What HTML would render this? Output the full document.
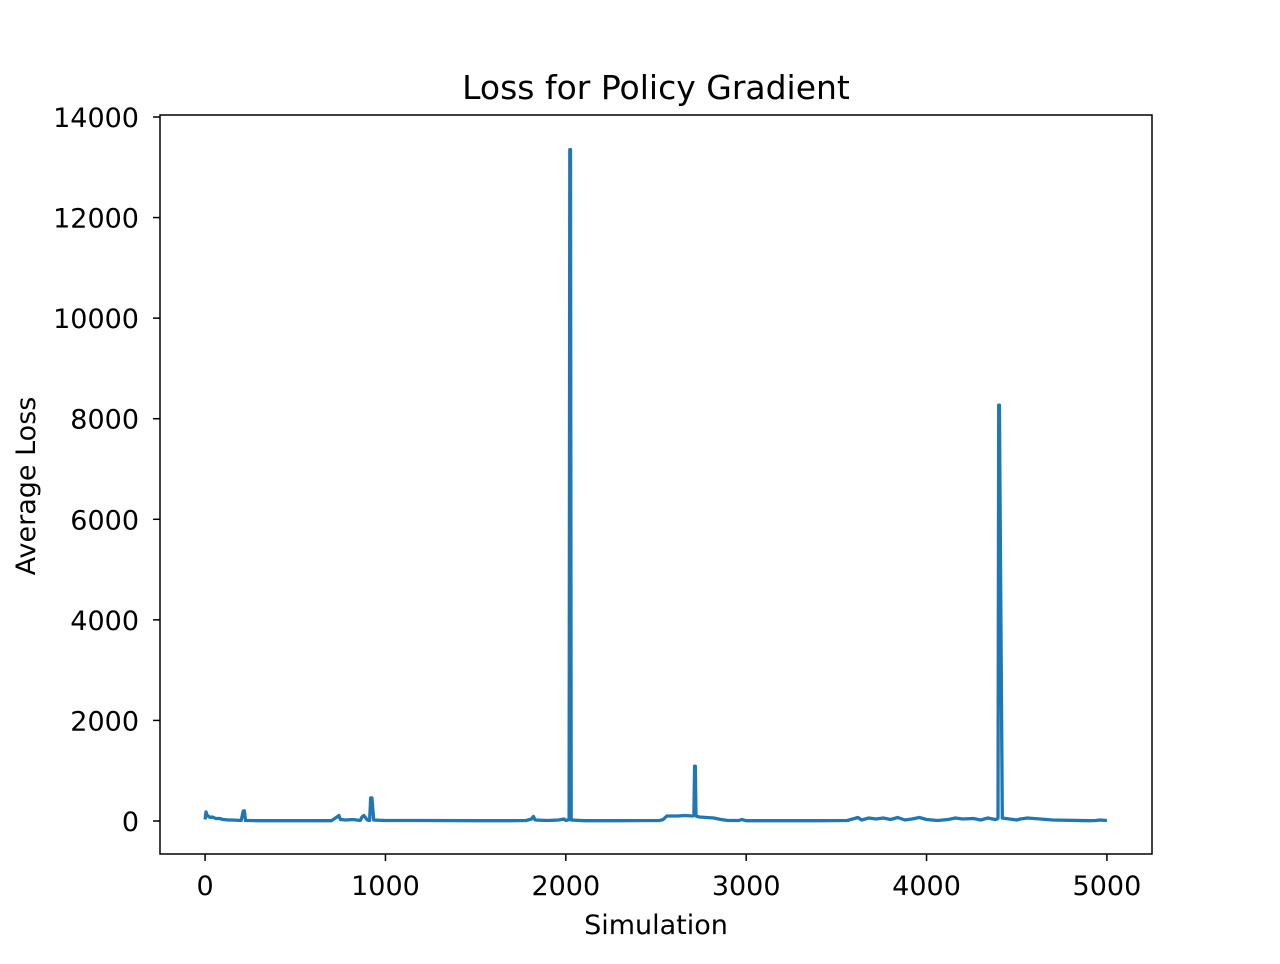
<!DOCTYPE html>
<html><head><meta charset="utf-8"><style>
body{margin:0;background:#fff;font-family:"DejaVu Sans","Liberation Sans",sans-serif;}
svg text{font-family:"DejaVu Sans","Liberation Sans",sans-serif;}
</style></head><body>
<svg id="chart" width="1280" height="960" xmlns="http://www.w3.org/2000/svg">
<rect width="1280" height="960" fill="#fff"/>
<text x="656" y="99" font-size="33" text-anchor="middle">Loss for Policy Gradient</text>
<text x="656" y="934" font-size="27" text-anchor="middle">Simulation</text>
<text transform="translate(35,486) rotate(-90)" font-size="27" text-anchor="middle">Average Loss</text>
<g id="ticks"></g>
<path id="line" fill="none" stroke="#1f77b4" stroke-width="3.3" stroke-linejoin="round"/>
<rect x="160" y="115" width="992" height="739" fill="none" stroke="#000" stroke-width="1.5"/>
</svg>
<script>
const xTicks=[0,1000,2000,3000,4000,5000];
const yTicks=[0,2000,4000,6000,8000,10000,12000,14000];
const simX= [0, 5,  8,  12, 20,30,40,60,80,100,130,150,200,212,218,224,240,300,500,700,735,742,750,780,820,860,870,880,900,912,918,925,935,1000,1200,1500,1700,1780,1810,1820,1830,1900,1960,1990,2000,2018,2022,2026,2030,2100,2300,2520,2540,2560,2580,2620,2660,2700,2710,2714,2718,2722,2740,2780,2820,2860,2900,2960,2975,3000,3200,3400,3560,3600,3620,3640,3680,3720,3760,3800,3840,3880,3920,3960,4000,4060,4120,4160,4200,4260,4300,4340,4380,4392,4396,4400,4404,4420,4460,4500,4520,4560,4700,4900,4940,4960,5000];
const lossY=[30,180,150,110,90,70,80,50,50,30, 20, 20, 10, 200,200,10, 10, 5,  5,  5,  90, 110,30, 20, 30, 10, 80, 110,20, 10, 460,460,20, 10,  10,  5,   5,   10,  40,  90,  20,  10,  20,  40,  10,  30,  13350,13350,20,5,  5,   10,  30,  100, 100, 100, 110, 100, 110, 1090,1090,100, 80,  70,  60,  30,  10,  10,  30,  5,   5,   5,   10,  50,  70,  20,  60,  40,  60,  30,  70,  20,  40,  70,  30,  10,  30,  60,  40,  50,  20,  60,  30,  40,  60,  8270,8270,60,  40,  20,  40,  60,  20,  5,   10,  20,  10,  5];
const xs=v=>160+(v+250)*992/5500;
const ys=v=>821-v*(821-117)/14000;
const g=document.getElementById('ticks');
const NS='http://www.w3.org/2000/svg';
xTicks.forEach(t=>{
 const l=document.createElementNS(NS,'line');
 
 
 l.setAttribute('x1',xs(t));l.setAttribute('x2',xs(t));l.setAttribute('y1',854);l.setAttribute('y2',861);l.setAttribute('stroke','#000');l.setAttribute('stroke-width','1.5');g.appendChild(l);
 const tx=document.createElementNS(NS,'text');
 
 
 tx.setAttribute('x',xs(t));tx.setAttribute('y',895);tx.setAttribute('font-size','27');tx.setAttribute('text-anchor','middle');tx.textContent=t;g.appendChild(tx);
});
yTicks.forEach(t=>{
 const l=document.createElementNS(NS,'line');
 
 
 l.setAttribute('x1',153);l.setAttribute('x2',160);l.setAttribute('y1',ys(t));l.setAttribute('y2',ys(t));l.setAttribute('stroke','#000');l.setAttribute('stroke-width','1.5');g.appendChild(l);
 const tx=document.createElementNS(NS,'text');
 
 
 tx.setAttribute('x',139);tx.setAttribute('y',ys(t)+10);tx.setAttribute('font-size','27');tx.setAttribute('text-anchor','end');tx.textContent=t;g.appendChild(tx);
});
document.getElementById('line').setAttribute('d',simX.map((x,i)=>(i?'L':'M')+xs(x).toFixed(1)+','+ys(lossY[i]).toFixed(1)).join(''));
</script>
</body></html>
